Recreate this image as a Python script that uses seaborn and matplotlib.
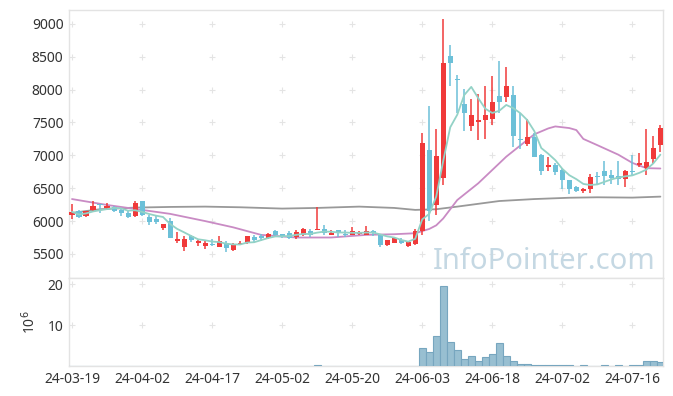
import matplotlib
matplotlib.use("Agg")
import matplotlib.pyplot as plt
import numpy as np
import pandas as pd
import seaborn as sns


# Trading days (KRX calendar, holidays removed)
holidays = ["2024-04-10", "2024-05-01", "2024-05-06", "2024-05-15", "2024-06-06"]
dates = pd.bdate_range("2024-03-19", "2024-07-22", freq="C", holidays=holidays)

opens = [6100, 6150, 6070, 6170, 6250, 6200, 6220, 6170, 6120, 6070,
         6300, 6060, 6035, 5895, 5995, 5690, 5610, 5775, 5670, 5615,
         5640, 5610, 5660, 5555, 5645, 5660, 5755, 5760, 5745, 5855,
         5790, 5815, 5765, 5785, 5845, 5865, 5875, 5795, 5865, 5795,
         5795, 5810, 5795, 5855, 5795, 5640, 5670, 5705, 5620, 5650,
         5845, 7085, 6250, 6650, 8510, 8150, 7780, 7445, 7510, 7540,
         7560, 7905, 7895, 7915, 7240, 7175, 7285, 7010, 6820, 6860,
         6775, 6625, 6525, 6465, 6495, 6690, 6760, 6700, 6680, 6635,
         6760, 6850, 6810, 6950, 7165]
highs = [6260, 6175, 6160, 6310, 6260, 6270, 6230, 6180, 6160, 6300,
         6310, 6090, 6080, 5960, 6040, 5840, 5775, 5790, 5710, 5690,
         5720, 5770, 5690, 5660, 5700, 5780, 5790, 5800, 5820, 5860,
         5810, 5855, 5860, 5895, 5885, 6210, 5935, 5865, 5870, 5865,
         5905, 5855, 5925, 5865, 5800, 5710, 5740, 5735, 5690, 5875,
         7340, 7750, 7400, 9070, 8680, 8220, 8005, 7855, 7935, 8055,
         8210, 8430, 8340, 8055, 7640, 7560, 7345, 7015, 6970, 6890,
         6810, 6630, 6530, 6500, 6710, 6740, 6910, 6780, 6910, 6780,
         7010, 7040, 7400, 7300, 7460]
lows = [6030, 6040, 6060, 6140, 6130, 6170, 6140, 6070, 6040, 6060,
        6080, 5935, 5955, 5865, 5745, 5670, 5550, 5680, 5615, 5580,
        5620, 5600, 5530, 5550, 5640, 5650, 5670, 5700, 5730, 5780,
        5745, 5725, 5730, 5775, 5755, 5860, 5785, 5785, 5755, 5755,
        5785, 5785, 5785, 5775, 5600, 5620, 5665, 5655, 5610, 5640,
        5795, 6000, 6090, 6545, 8055, 7640, 7375, 7365, 7235, 7255,
        7460, 7640, 7815, 7125, 7100, 7135, 6975, 6695, 6760, 6695,
        6495, 6415, 6435, 6425, 6430, 6565, 6545, 6565, 6545, 6515,
        6695, 6820, 6695, 6870, 7050]
closes = [6140, 6060, 6150, 6235, 6240, 6225, 6150, 6120, 6055, 6275,
          6100, 5990, 5990, 5955, 5745, 5730, 5725, 5715, 5700, 5670,
          5630, 5690, 5590, 5645, 5665, 5775, 5715, 5750, 5805, 5785,
          5780, 5745, 5835, 5875, 5785, 5880, 5825, 5825, 5815, 5785,
          5855, 5820, 5855, 5815, 5640, 5705, 5735, 5670, 5685, 5855,
          7185, 6150, 6990, 8400, 8410, 8140, 7650, 7610, 7540, 7610,
          7815, 7815, 8055, 7295, 7230, 7285, 6980, 6765, 6860, 6745,
          6625, 6495, 6465, 6495, 6665, 6670, 6685, 6655, 6635, 6760,
          6740, 6880, 6900, 7115, 7415]
# red = up day, blue = down day (as drawn in the reference)
up_day = [1, 0, 1, 1, 0, 1, 0, 0, 0, 1,
          0, 0, 0, 1, 0, 1, 1, 0, 1, 1,
          0, 1, 0, 1, 1, 1, 0, 0, 1, 0,
          0, 0, 1, 1, 0, 1, 0, 1, 0, 0,
          1, 1, 1, 0, 0, 1, 1, 0, 1, 1,
          1, 0, 1, 1, 0, 0, 0, 1, 1, 1,
          1, 0, 1, 0, 0, 1, 0, 0, 1, 0,
          0, 0, 0, 1, 1, 0, 0, 0, 0, 1,
          0, 1, 1, 1, 1]
# volume in millions of shares
volumes = [0.05, 0.05, 0.05, 0.05, 0.05, 0.05, 0.05, 0.05, 0.05, 0.05,
           0.05, 0.05, 0.05, 0.05, 0.05, 0.05, 0.05, 0.05, 0.05, 0.05,
           0.05, 0.05, 0.05, 0.05, 0.05, 0.05, 0.05, 0.05, 0.05, 0.05,
           0.05, 0.05, 0.05, 0.05, 0.05, 0.25, 0.05, 0.05, 0.05, 0.05,
           0.05, 0.05, 0.05, 0.05, 0.05, 0.05, 0.05, 0.05, 0.05, 0.05,
           4.4, 3.5, 7.3, 19.5, 5.9, 3.8, 1.8, 2.5, 1.3, 2.3,
           3.0, 5.6, 2.5, 1.1, 0.6, 0.4, 0.25, 0.2, 0.2, 0.2,
           0.2, 0.2, 0.08, 0.2, 0.08, 0.08, 0.2, 0.08, 0.2, 0.08,
           0.2, 0.2, 1.1, 1.1, 0.9]

# 20-day and long moving averages (day index, value)
ma20_idx = [0, 5, 10, 14, 19, 23, 27, 32, 37, 42, 46, 49, 51, 52, 53, 55, 58,
            62, 64, 66, 68, 69, 71, 72, 73, 75, 78, 80, 82, 84]
ma20_val = [6335, 6245, 6170, 6110, 6000, 5905, 5790, 5750, 5750, 5790, 5800,
            5815, 5880, 5935, 6040, 6320, 6575, 6980, 7150, 7320, 7410, 7440,
            7415, 7385, 7250, 7155, 7010, 6885, 6805, 6800]
malong_idx = [0, 4, 9, 14, 19, 24, 30, 35, 41, 46, 49, 52, 55, 61, 66, 71,
              75, 80, 84]
malong_val = [6125, 6180, 6205, 6215, 6220, 6210, 6190, 6200, 6220, 6200, 6170,
              6180, 6220, 6305, 6335, 6355, 6362, 6357, 6372]

price_ticks = [5500, 6000, 6500, 7000, 7500, 8000, 8500, 9000]
vol_ticks = [10, 20]
date_tick_step = 10

RED = "#f03a3a"
BLUE = "#6cc0d8"
GRID = "#e4e4e4"

sns.set_style("white")
plt.rcParams['font.family'] = ['Noto Sans', 'DejaVu Sans']

df = pd.DataFrame({"date": dates, "open": opens, "high": highs, "low": lows,
                   "close": closes, "up": up_day, "volume": volumes})
df["x"] = np.arange(len(df))
df["ma5"] = df["close"].rolling(5, min_periods=1).mean()
ma20 = pd.DataFrame({"x": ma20_idx, "v": ma20_val})
malong = pd.DataFrame({"x": malong_idx, "v": malong_val})

fig = plt.figure(figsize=(6.73, 3.96), dpi=100)
ax = fig.add_axes([0.1025, 0.298, 0.8826, 0.677])
axv = fig.add_axes([0.1025, 0.0758, 0.8826, 0.2222], sharex=ax)

# moving averages
sns.lineplot(data=malong, x="x", y="v", ax=ax, color="#999999", lw=1.3, zorder=2)
sns.lineplot(data=ma20, x="x", y="v", ax=ax, color="#c98bc4", lw=1.3, zorder=2)
sns.lineplot(data=df, x="x", y="ma5", ax=ax, color="#93d2c6", lw=1.3, zorder=4)

# candles
cols = [RED if u else BLUE for u in df["up"]]
ax.vlines(df["x"], df["low"], df["high"], colors=cols, lw=1.1, zorder=3)
body_lo = np.minimum(df["open"], df["close"])
body_h = np.maximum(np.abs(df["close"] - df["open"]), 22)
ax.bar(df["x"], body_h, bottom=body_lo, width=0.72, color=cols, lw=0, zorder=3)

# volume
axv.bar(df["x"], df["volume"], width=1.0, color="#98bfd1", edgecolor="#77a6bf",
        lw=0.8, zorder=3)

ax.set_xlim(-0.43, 84.37)
ax.set_ylim(5134, 9213)
axv.set_ylim(0, 21.5)

xt = list(range(0, len(df), date_tick_step))
axv.set_xticks(xt)
axv.set_xticklabels([df["date"][i].strftime("%y-%m-%d") for i in xt],
                    fontsize=10, color="#333333")
ax.set_yticks(price_ticks)
ax.set_yticklabels([str(t) for t in price_ticks], fontsize=10, color="#333333")
axv.set_yticks(vol_ticks)
axv.set_yticklabels([str(t) for t in vol_ticks], fontsize=10, color="#333333")
plt.setp(ax.get_xticklabels(), visible=False)
for a in (ax, axv):
    a.tick_params(length=0, pad=4)
    a.set_xlabel("")
    a.set_ylabel("")
    for s in a.spines.values():
        s.set_color("#e3e3e3")
        s.set_linewidth(1)
axv.set_ylabel("10$^{6}$", fontsize=10, color="#333333", labelpad=6)

# "+" grid marks at tick crossings
gx, gy = np.meshgrid(xt, price_ticks)
ax.plot(gx.ravel(), gy.ravel(), ls="none", marker="+", ms=4, mew=0.8,
        color=GRID, zorder=1)
gx, gy = np.meshgrid(xt, vol_ticks)
axv.plot(gx.ravel(), gy.ravel(), ls="none", marker="+", ms=4, mew=0.8,
         color=GRID, zorder=1)

ax.text(0.987, 0.035, "InfoPointer.com", transform=ax.transAxes, ha="right",
        va="baseline", fontsize=21, color="#c5d8e3", zorder=5)

fig.savefig("out.png", dpi=100)
